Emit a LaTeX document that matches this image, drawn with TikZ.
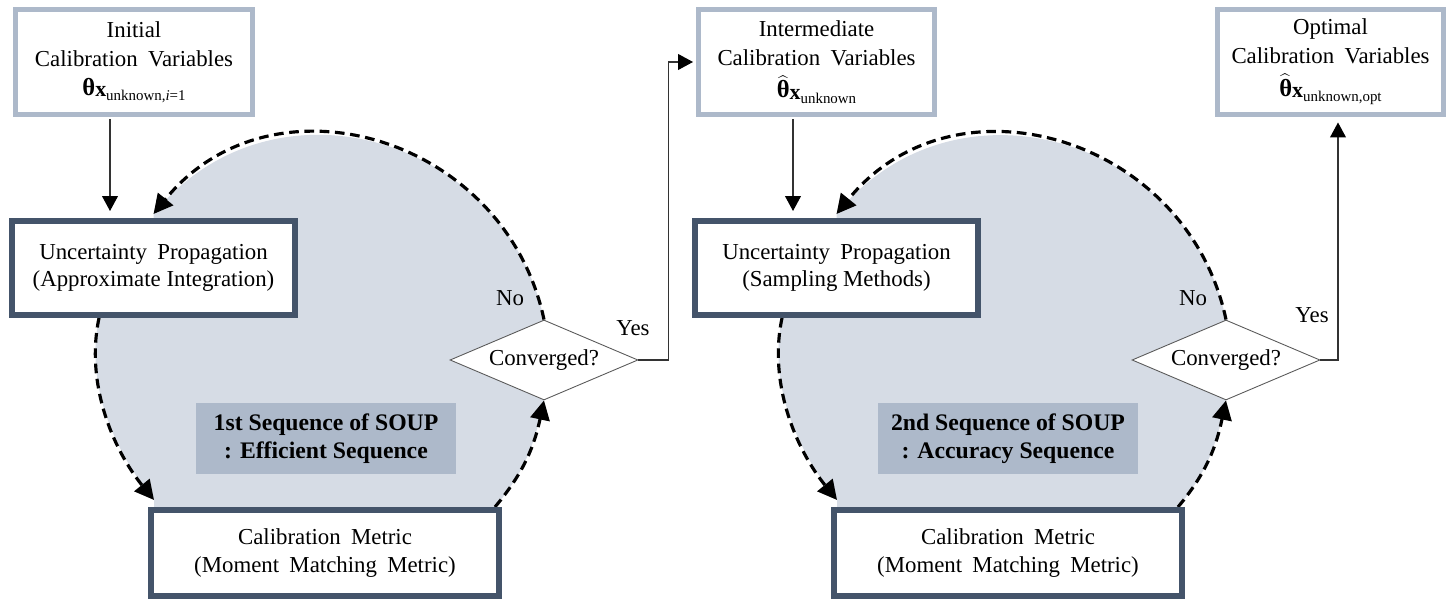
\documentclass[tikz,border=0pt]{standalone}
\usepackage{fontspec}
\setmainfont{Liberation Serif}
\usetikzlibrary{arrows.meta,shapes.geometric,calc}
\definecolor{slate}{HTML}{44546A}
\definecolor{steel}{HTML}{ADB9CA}
\definecolor{mist}{HTML}{D6DCE5}
\definecolor{rimgray}{HTML}{595959}
\pgfdeclarelayer{back}
\pgfsetlayers{back,main}
% wider word gap used inside some labels
\newcommand\wsp{\hspace{0.45em}}
% bold theta and the calibration-variable subscript
\newcommand\thbold{{\fontsize{14}{15}\selectfont\bfseries θ}}
\newcommand\thsym[2]{#1\raisebox{-0.1ex}{\fontsize{12.5}{13}\selectfont\bfseries x}\raisebox{-0.5ex}{\fontsize{8.5}{9}\selectfont #2}}

\begin{document}
\begin{tikzpicture}[x=0.02cm,y=0.02cm,
  every node/.style={font=\fontsize{13}{15.6}\selectfont, align=center, inner sep=0pt},
  varbox/.style={draw=steel, line width=0.1cm, fill=white, minimum width=4.74cm, minimum height=2.1cm, font=\fontsize{13}{16.5}\selectfont},
  procbox/.style={draw=slate, line width=0.12cm, fill=white, minimum width=5.66cm, minimum height=1.88cm},
  metricbox/.style={draw=slate, line width=0.12cm, fill=white, minimum width=6.96cm, minimum height=1.72cm},
  tagbox/.style={fill=steel, minimum width=5.2cm, minimum height=1.42cm, font=\fontsize{13.5}{16}\selectfont\bfseries},
  decision/.style={diamond, draw=rimgray, line width=0.5pt, fill=white, minimum width=3.76cm, minimum height=1.6cm, aspect=2.35},
  cyclearrow/.style={dash pattern=on 5.5pt off 3.2pt, line width=1.8pt, -{Triangle[length=11pt,width=11pt]}},
  feed/.style={line width=0.7pt, draw=black!80, -{Triangle[length=8.5pt,width=9pt,color=black]}},
  ]
\useasboundingbox (0,0) rectangle (1446,601);

% ---- variable boxes (top row)
\node[varbox] (T1) at (134,539) {Initial\\Calibration\wsp Variables\\\thsym{\thbold}{unknown,\textit{i}=1}};
\node[varbox] (T2) at (816.5,539) {Intermediate\\Calibration\wsp Variables\\[2pt]\thsym{$\widehat{\mbox{\thbold}}$}{unknown}};
\node[varbox, minimum width=4.52cm] (T3) at (1330.5,539) {Optimal\\Calibration\wsp Variables\\[2pt]\thsym{$\widehat{\mbox{\thbold}}$}{unknown,opt}};

% ---- process boxes
\node[procbox] (UP1) at (153.5,333) {Uncertainty\wsp Propagation\\(Approximate Integration)};
\node[procbox] (UP2) at (836.5,333) {Uncertainty\wsp Propagation\\(Sampling Methods)};
\node[metricbox] (CM1) at (325,48) {Calibration\wsp Metric\\(Moment\wsp Matching\wsp Metric)};
\node[metricbox] (CM2) at (1008,48) {Calibration\wsp Metric\\(Moment\wsp Matching\wsp Metric)};

% ---- sequence tags
\node[tagbox] (S1) at (326,162.5) {1st Sequence of SOUP\\: Efficient Sequence};
\node[tagbox] (S2) at (1008,162.5) {2nd Sequence of SOUP\\: Accuracy Sequence};

% ---- decisions
\node[decision] (D1) at (544,241) {Converged?};
\node[decision] (D2) at (1226,241) {Converged?};

\node (N1) at (510,303) {No};
\node (Y1) at (633,273) {Yes};
\node (N2) at (1193,303) {No};
\node (Y2) at (1312,286) {Yes};

% ---- shaded loops and their dashed arrows
\begin{pgfonlayer}{back}
  \foreach \u/\c/\d in {UP1/CM1/D1, UP2/CM2/D2}{
    \fill[mist] (\d.north) to[out=102,in=51,looseness=1.19] ([yshift=0.08cm]\u.north)
      -- (\u.north)
      -- ([xshift=1.8cm]\u.south west)
      to[out=258,in=129,looseness=0.89] ([xshift=0.12cm,yshift=0.14cm]\c.north west)
      -- ([xshift=0.12cm]\c.north west) -- ([xshift=-0.14cm]\c.north east)
      to[out=50,in=258] (\d.south) -- cycle;
    \draw[cyclearrow] (\d.north) to[out=102,in=51,looseness=1.19] ([yshift=0.08cm]\u.north);
    \draw[cyclearrow] ([xshift=1.8cm]\u.south west)
      to[out=258,in=129,looseness=0.89] ([xshift=0.12cm,yshift=0.14cm]\c.north west);
    \draw[cyclearrow] ([xshift=-0.14cm]\c.north east) to[out=50,in=258] (\d.south);
  }
\end{pgfonlayer}

% ---- solid connectors
\coordinate (a1) at ([xshift=-0.48cm,yshift=-0.05cm]T1.south);
\coordinate (a2) at ([xshift=-0.47cm,yshift=-0.05cm]T2.south);
\coordinate (a3) at ([xshift=0.15cm]T3.south);
\draw[feed, shorten >=0.14cm] (a1) -- (a1 |- UP1.north);
\draw[feed, shorten >=0.14cm] (a2) -- (a2 |- UP2.north);
\draw[feed, shorten >=0.05cm] (D1.east) -- ++(30,0) |- (T2.west);
\draw[feed, shorten >=0.11cm] (D2.east) -| (a3);
\end{tikzpicture}
\end{document}
